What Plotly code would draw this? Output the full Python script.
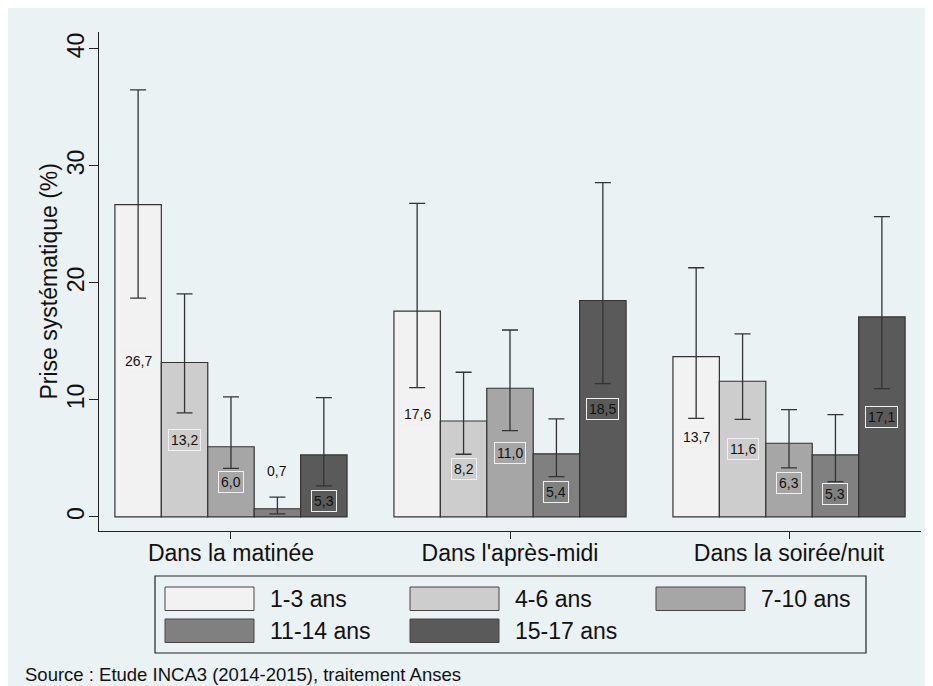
import plotly.graph_objects as go

FONT = "Liberation Sans, Arial, sans-serif"
BG = "#eaf2f3"
INK = "#222222"

categories = ["Dans la matinée", "Dans l'après-midi", "Dans la soirée/nuit"]
age_groups = ["1-3 ans", "4-6 ans", "7-10 ans", "11-14 ans", "15-17 ans"]
colors = ["#f2f2f2", "#cdcdcd", "#a6a6a6", "#808080", "#5a5a5a"]

# % prise systématique, per age group (matinée, après-midi, soirée/nuit)
val_1_3 = [26.7, 17.6, 13.7]
val_4_6 = [13.2, 8.2, 11.6]
val_7_10 = [6.0, 11.0, 6.3]
val_11_14 = [0.7, 5.4, 5.3]
val_15_17 = [5.3, 18.5, 17.1]

# confidence intervals
low_1_3 = [18.7, 11.05, 8.43]
high_1_3 = [36.5, 26.8, 21.3]
low_4_6 = [8.9, 5.36, 8.34]
high_4_6 = [19.06, 12.37, 15.64]
low_7_10 = [4.15, 7.38, 4.19]
high_7_10 = [10.26, 15.98, 9.17]
low_11_14 = [0.26, 3.45, 3.02]
high_11_14 = [1.7, 8.38, 8.74]
low_15_17 = [2.65, 11.4, 10.97]
high_15_17 = [10.2, 28.57, 25.67]

values = [val_1_3, val_4_6, val_7_10, val_11_14, val_15_17]
lows = [low_1_3, low_4_6, low_7_10, low_11_14, low_15_17]
highs = [high_1_3, high_4_6, high_7_10, high_11_14, high_15_17]

# value labels sit half way up the bar, except where they were moved
label_moved = {(0, 3): 3.9, (0, 4): 1.4, (1, 3): 2.16, (2, 3): 1.97, (2, 2): 2.9}

# page pixels (the html body adds an 8px margin round the figure)
W, H = 933, 686
OFF = 8
L, R, T, B = 99, 921, 32, 531
BARGAP = 0.168


def px(x):
    return (x - L) / (R - L)


def py(y):
    return (B - y) / (B - T)


fig = go.Figure()
xs = list(range(len(categories)))

for i, name in enumerate(age_groups):
    v = values[i]
    fig.add_trace(go.Bar(
        x=xs, y=v, name=name,
        marker=dict(color=colors[i], line=dict(color="#333333", width=1.2)),
        error_y=dict(
            type="data", symmetric=False,
            array=[h - a for h, a in zip(highs[i], v)],
            arrayminus=[a - lo for a, lo in zip(v, lows[i])],
            color="#333333", thickness=1.3, width=8,
        ),
        showlegend=False,
        hoverinfo="skip",
    ))

bw = (1 - BARGAP) / len(age_groups)
annotations = []
for i in range(len(age_groups)):
    for g in xs:
        v = values[i][g]
        outside = (g, i) == (0, 3)
        annotations.append(dict(
            x=g + (i - 2) * bw, y=label_moved.get((g, i), v / 2),
            xref="x", yref="y",
            text=f"{v:.1f}".replace(".", ","),
            showarrow=False,
            font=dict(family=FONT, size=14, color="#111111"),
            bgcolor=BG if outside else colors[i],
            bordercolor=BG if outside else "#f0f0f0",
            borderwidth=1, borderpad=2,
        ))

annotations.append(dict(
    x=px(48), y=py((T + B) / 2), xref="paper", yref="paper",
    xanchor="center", yanchor="middle", textangle=-90,
    text="Prise systématique (%)", showarrow=False,
    font=dict(family=FONT, size=23, color="#111111"),
))
annotations.append(dict(
    x=px(23), y=py(674), xref="paper", yref="paper",
    xanchor="left", yanchor="middle",
    text="Source : Etude INCA3 (2014-2015), traitement Anses",
    showarrow=False, font=dict(family=FONT, size=18.5, color="#111111"),
))

# legend drawn by hand: Stata style wide swatches in a framed box
shapes = [dict(
    type="rect", xref="paper", yref="paper",
    x0=px(155), x1=px(866), y0=py(653), y1=py(576),
    fillcolor=BG, line=dict(color=INK, width=1.2),
)]
col_x = [165, 410, 656]
row_y = [587, 619]
for i, name in enumerate(age_groups):
    cx = col_x[i % 3]
    ry = row_y[i // 3]
    shapes.append(dict(
        type="rect", xref="paper", yref="paper",
        x0=px(cx), x1=px(cx + 89), y0=py(ry + 23.5), y1=py(ry),
        fillcolor=colors[i], line=dict(color="#444444", width=1),
    ))
    annotations.append(dict(
        x=px(cx + 103), y=py(ry + 12), xref="paper", yref="paper",
        xanchor="left", yanchor="middle", text=name, showarrow=False,
        font=dict(family=FONT, size=23, color="#111111"),
    ))

fig.update_layout(
    width=W, height=H,
    margin=dict(l=L - OFF, r=W - R + OFF, t=T - OFF, b=H - B + OFF, autoexpand=False),
    paper_bgcolor=BG,
    plot_bgcolor=BG,
    barmode="group",
    bargap=BARGAP,
    bargroupgap=0,
    font=dict(family=FONT, size=23, color="#111111"),
    shapes=shapes,
    annotations=annotations,
)
fig.update_xaxes(
    range=[-0.473, 2.473],
    tickmode="array", tickvals=xs, ticktext=categories,
    tickfont=dict(size=23), ticklabelstandoff=-6,
    showline=True, linecolor=INK, linewidth=1.3,
    ticks="outside", ticklen=7, tickcolor=INK, tickwidth=1.3,
    showgrid=False, zeroline=False,
)
fig.update_yaxes(
    range=[-1.2, 41.45],
    tickmode="array", tickvals=[0, 10, 20, 30, 40],
    tickangle=-90, tickfont=dict(size=23), ticklabelstandoff=-4,
    showline=True, linecolor=INK, linewidth=1.3,
    ticks="outside", ticklen=9, tickcolor=INK, tickwidth=1.3,
    showgrid=False, zeroline=False,
)

fig.write_html("out.html")
